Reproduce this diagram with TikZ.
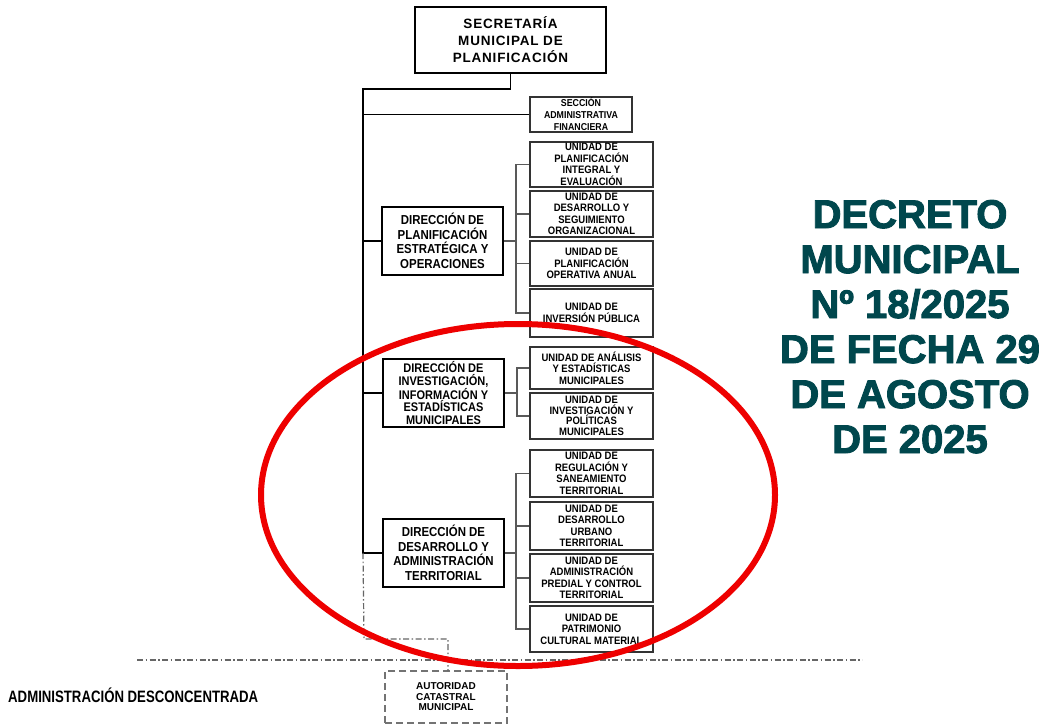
\documentclass[tikz,border=0pt]{standalone}
\usepackage{fontspec}
\setmainfont{Liberation Sans}
\newfontfamily\condfont[FakeStretch=0.88]{Liberation Sans}
\newfontfamily\narrowfont[FakeStretch=0.8]{Liberation Sans}
\newfontfamily\spacedfont[LetterSpace=6]{Liberation Sans}
\newfontfamily\heavyfont[FakeBold=2.4]{Liberation Sans}
\definecolor{teal}{HTML}{00474D}
\definecolor{redring}{RGB}{238,0,0}
\begin{document}
\begin{tikzpicture}[x=1pt,y=-1pt,
  secbox/.style={draw=black,line width=2,inner sep=0,align=center,
    font=\spacedfont\bfseries\fontsize{13.5}{17}\selectfont},
  dirbox/.style={draw=black,line width=2,inner sep=0,minimum width=121,minimum height=68,align=center,
    font=\condfont\bfseries\fontsize{13}{14.5}\selectfont},
  unitbox/.style={draw=black!80,line width=1.3,inner sep=0,minimum width=123,align=center,
    font=\condfont\bfseries\fontsize{10.8}{11.5}\selectfont},
  dashbox/.style={draw=black!55,line width=1.4,dash pattern=on 7pt off 4pt,inner sep=0,align=center,
    font=\bfseries\fontsize{10}{10.5}\selectfont},
  link/.style={line width=1.2,draw=black},
  sublink/.style={line width=1.2,draw=black!65},
  dashdot/.style={line width=1.2,draw=black!60,dash pattern=on 6pt off 2.5pt on 1.5pt off 2.5pt},
  decree/.style={text=teal,anchor=base,inner sep=0,font=\heavyfont\bfseries\fontsize{40}{45}\selectfont}
]
\useasboundingbox (0,0) rectangle (1051,725);
\fill[white] (0,0) rectangle (1051,725);

% top
\node[secbox,minimum width=191,minimum height=66] (sec) at (510.5,40) {SECRETARÍA\\MUNICIPAL DE\\PLANIFICACIÓN};
\node[unitbox,minimum width=102,minimum height=35,font=\condfont\bfseries\fontsize{10}{12}\selectfont] (sadm) at (581,114.5) {SECCIÓN\\ADMINISTRATIVA\\FINANCIERA};

% direction 1
\node[dirbox] (dir1) at (442.5,241) {DIRECCIÓN DE\\PLANIFICACIÓN\\ESTRATÉGICA Y\\OPERACIONES};
\node[unitbox,minimum height=45] (u1) at (591.5,164.5) {UNIDAD DE\\PLANIFICACIÓN\\INTEGRAL Y\\EVALUACIÓN};
\node[unitbox,minimum height=46] (u2) at (591.5,214) {UNIDAD DE\\DESARROLLO Y\\SEGUIMIENTO\\ORGANIZACIONAL};
\node[unitbox,minimum height=45] (u3) at (591.5,263.5) {UNIDAD DE\\PLANIFICACIÓN\\OPERATIVA ANUAL};
\node[unitbox,minimum height=48] (u4) at (591.5,313) {UNIDAD DE\\INVERSIÓN PÚBLICA};

% direction 2
\node[dirbox,font=\condfont\bfseries\fontsize{12.5}{12.8}\selectfont] (dir2) at (443.5,393) {DIRECCIÓN DE\\INVESTIGACIÓN,\\INFORMACIÓN Y\\ESTADÍSTICAS\\MUNICIPALES};
\node[unitbox,minimum height=42] (a1) at (591.5,368) {UNIDAD DE ANÁLISIS\\Y ESTADÍSTICAS\\MUNICIPALES};
\node[unitbox,minimum height=46,font=\condfont\bfseries\fontsize{10.8}{10.5}\selectfont] (a2) at (591.5,416) {UNIDAD DE\\INVESTIGACIÓN Y\\POLÍTICAS\\MUNICIPALES};

% direction 3
\node[dirbox] (dir3) at (443.5,553) {DIRECCIÓN DE\\DESARROLLO Y\\ADMINISTRACIÓN\\TERRITORIAL};
\node[unitbox,minimum height=47] (t1) at (591.5,473.5) {UNIDAD DE\\REGULACIÓN Y\\SANEAMIENTO\\TERRITORIAL};
\node[unitbox,minimum height=48] (t2) at (591.5,526) {UNIDAD DE\\DESARROLLO\\URBANO\\TERRITORIAL};
\node[unitbox,minimum height=48] (t3) at (591.5,578) {UNIDAD DE\\ADMINISTRACIÓN\\PREDIAL Y CONTROL\\TERRITORIAL};
\node[unitbox,minimum height=46] (t4) at (591.5,629) {UNIDAD DE\\PATRIMONIO\\CULTURAL MATERIAL};

% deconcentrated
\node[dashbox,minimum width=122,minimum height=52] (aut) at (446,697) {AUTORIDAD\\CATASTRAL\\MUNICIPAL};
\node[anchor=west,inner sep=0,font=\narrowfont\bfseries\fontsize{16.5}{18}\selectfont] (adm) at (8,695) {ADMINISTRACIÓN DESCONCENTRADA};

% trunk
\coordinate (tk) at (363,89);
\coordinate (tkend) at (363,553);
\draw[link] (sec.south) |- (tk) -- (tkend) -- (dir3.west);
\draw[link] (tk |- sadm.west) -- (sadm.west);
\draw[link] (tk |- dir1.west) -- (dir1.west);
\draw[link] (tk |- dir2.west) -- (dir2.west);

% brackets
\coordinate (b1) at (516,241);
\draw[sublink] (dir1.east) -- (b1);
\draw[sublink] (u1.west) -| (b1 |- u4.west) -- (u4.west);
\draw[sublink] (b1 |- u2.west) -- (u2.west);
\draw[sublink] (b1 |- u3.west) -- (u3.west);

\coordinate (b2) at (517,393);
\draw[sublink] (dir2.east) -- (b2);
\draw[sublink] (a1.west) -| (b2 |- a2.west) -- (a2.west);

\coordinate (b3) at (516,553);
\draw[sublink] (dir3.east) -- (b3);
\draw[sublink] (t1.west) -| (b3 |- t4.west) -- (t4.west);
\draw[sublink] (b3 |- t2.west) -- (t2.west);
\draw[sublink] (b3 |- t3.west) -- (t3.west);

% dash-dot links
\coordinate (dd1) at (364,639);
\coordinate (dd2) at (448,639);
\coordinate (autTop) at (448,671);
\draw[dashdot] (tkend) -- (dd1) -- (dd2) -- (autTop);
\coordinate (sepL) at (137,660);
\coordinate (sepR) at (862,660);
\draw[dashdot] (sepL) -- (sepR);

% decree text
\node[decree] (d1) at (910,228) {DECRETO};
\node[decree] (d2) at (910,273) {MUNICIPAL};
\node[decree] (d3) at (910,318) {Nº 18/2025};
\node[decree] (d4) at (910,363) {DE FECHA 29};
\node[decree] (d5) at (910,408) {DE AGOSTO};
\node[decree] (d6) at (910,453) {DE 2025};

% red ring
\draw[redring,line width=6] (518,495) ellipse [x radius=257, y radius=171];
\end{tikzpicture}
\end{document}
